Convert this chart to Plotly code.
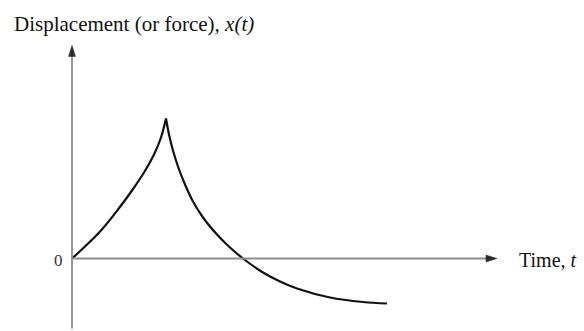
import plotly.graph_objects as go

# Response curve x(t): a growing branch up to the peak, then a decaying branch
t_rise = [0, 13, 29, 46, 60, 72, 82, 89, 94]
x_rise = [0, 12, 28, 49, 68, 86, 104, 121, 140]

t_fall = [94, 97, 101, 106, 113, 121, 131, 145, 158, 171, 191, 208, 225, 258, 291, 315]
x_fall = [140, 124, 108, 92, 74, 57, 41, 24, 11, 0, -14, -23, -30, -39, -43.5, -45]

# Axis extents (same units as the data)
t_axis_end = 425
x_axis_top = 213
x_axis_bottom = -70

W, H = 584, 331
x_left = -72
y_top = 258.5

fig = go.Figure()

axis_col = "#8c8c8c"
head_col = "#2a2a2a"

# axis lines
fig.add_shape(type="line", x0=0, x1=t_axis_end - 8, y0=0, y1=0,
              line=dict(color=axis_col, width=1.8))
fig.add_shape(type="line", x0=0, x1=0, y0=x_axis_bottom, y1=x_axis_top - 8,
              line=dict(color=axis_col, width=1.8))

# arrow heads
ah_len, ah_half = 11, 3.5
fig.add_shape(type="path",
              path=f"M {t_axis_end},0 L {t_axis_end-ah_len},{ah_half} L {t_axis_end-ah_len},{-ah_half} Z",
              fillcolor=head_col, line=dict(color=head_col, width=0.5))
fig.add_shape(type="path",
              path=f"M 0,{x_axis_top} L {-ah_half},{x_axis_top-ah_len} L {ah_half},{x_axis_top-ah_len} Z",
              fillcolor=head_col, line=dict(color=head_col, width=0.5))

for tt, xx in ((t_rise, x_rise), (t_fall, x_fall)):
    fig.add_trace(go.Scatter(x=tt, y=xx, mode="lines",
                             line=dict(color="#111111", width=2.2, shape="spline", smoothing=1.0),
                             hoverinfo="skip", showlegend=False))

serif = "Liberation Serif, Times New Roman, serif"
fig.add_annotation(x=-60, y=235, xref="x", yref="y", xanchor="left", yanchor="middle",
                   text="Displacement (or force), <i>x(t)</i>", showarrow=False,
                   font=dict(family=serif, size=21, color="#111111"))
fig.add_annotation(x=445, y=-1, xref="x", yref="y", xanchor="left", yanchor="middle",
                   text="Time, <i>t</i>", showarrow=False,
                   font=dict(family=serif, size=20, color="#111111"))
fig.add_annotation(x=-14, y=-2, xref="x", yref="y", xanchor="center", yanchor="middle",
                   text="0", showarrow=False,
                   font=dict(family=serif, size=17, color="#333333"))

fig.update_layout(
    width=W, height=H,
    margin=dict(l=0, r=0, t=0, b=0),
    paper_bgcolor="white", plot_bgcolor="white",
    xaxis=dict(range=[x_left, x_left + W], visible=False, fixedrange=True),
    yaxis=dict(range=[y_top - H, y_top], visible=False, fixedrange=True),
)

fig.write_html("out.html")
